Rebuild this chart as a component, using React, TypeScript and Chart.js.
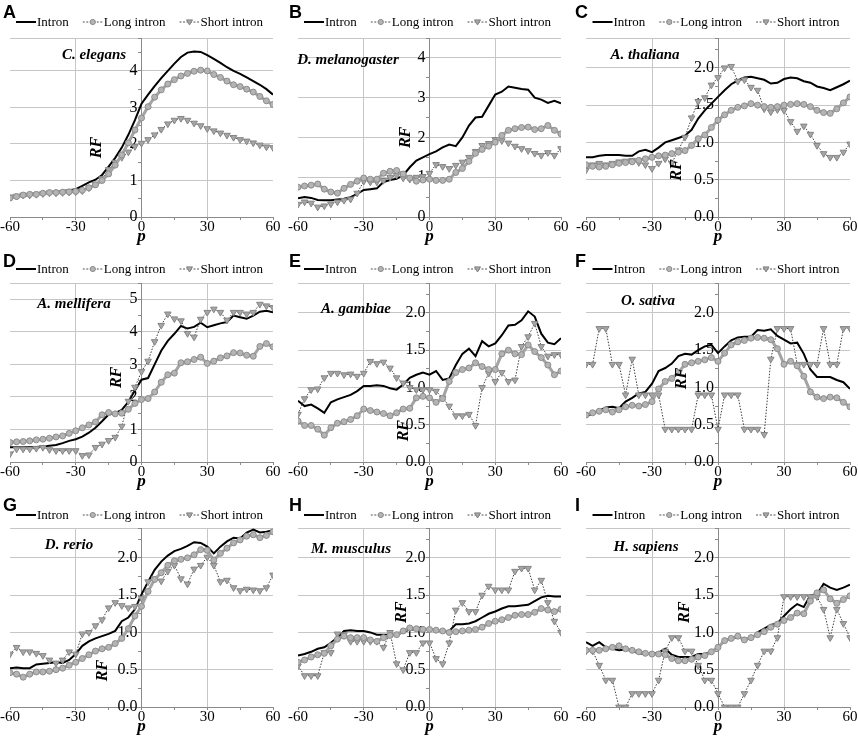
import { useEffect, useRef } from 'react';
import { Chart, registerables } from 'chart.js';

Chart.register(...registerables);

// relative position p around the splice site, sampled every 3 nt
const positions = [
  -60, -57, -54, -51, -48, -45, -42, -39, -36, -33, -30, -27, -24, -21, -18, -15, -12, -9, -6, -3,
  0, 3, 6, 9, 12, 15, 18, 21, 24, 27, 30, 33, 36, 39, 42, 45, 48, 51, 54, 57, 60,
];

const seriesNames = ['Intron', 'Long intron', 'Short intron'];

// C. elegans
const elegansIntron = [0.55, 0.56, 0.58, 0.6, 0.62, 0.64, 0.66, 0.68, 0.71, 0.73, 0.76, 0.85, 0.95, 1.02, 1.15, 1.38, 1.62, 1.9, 2.25, 2.65, 3.1, 3.35, 3.58, 3.8, 4.0, 4.2, 4.38, 4.5, 4.53, 4.52, 4.43, 4.33, 4.22, 4.1, 4.0, 3.92, 3.82, 3.72, 3.62, 3.5, 3.35];
const elegansLong = [0.52, 0.56, 0.6, 0.62, 0.62, 0.65, 0.67, 0.67, 0.68, 0.69, 0.7, 0.73, 0.8, 0.88, 1.0, 1.18, 1.42, 1.7, 2.03, 2.38, 2.71, 3.02, 3.28, 3.48, 3.64, 3.76, 3.86, 3.93, 3.99, 4.02, 4.0, 3.9, 3.82, 3.72, 3.62, 3.57, 3.5, 3.42, 3.3, 3.18, 3.08];
const elegansShort = [0.55, 0.57, 0.6, 0.6, 0.62, 0.64, 0.66, 0.66, 0.67, 0.68, 0.69, 0.72, 0.8, 0.9, 1.05, 1.3, 1.5, 1.63, 1.78, 1.93, 2.02, 2.12, 2.25, 2.4, 2.55, 2.65, 2.7, 2.65, 2.57, 2.5, 2.42, 2.36, 2.3, 2.24, 2.18, 2.12, 2.08, 2.03, 1.97, 1.92, 1.9];

// D. melanogaster
const melanoIntron = [0.47, 0.5, 0.48, 0.43, 0.42, 0.42, 0.44, 0.46, 0.5, 0.58, 0.68, 0.7, 0.72, 0.88, 0.93, 0.96, 1.05, 1.25, 1.42, 1.5, 1.58, 1.65, 1.75, 1.82, 1.78, 2.0, 2.3, 2.5, 2.52, 2.8, 3.08, 3.15, 3.28, 3.25, 3.22, 3.2, 3.0, 2.95, 2.87, 2.92, 2.86];
const melanoLong = [0.75, 0.78, 0.8, 0.83, 0.7, 0.63, 0.6, 0.72, 0.82, 0.9, 0.98, 0.95, 0.95, 1.1, 1.15, 1.17, 1.08, 0.98, 0.9, 0.93, 0.95, 0.92, 0.92, 0.95, 1.12, 1.22, 1.4, 1.6, 1.7, 1.78, 1.88, 2.05, 2.18, 2.22, 2.25, 2.26, 2.2, 2.22, 2.3, 2.18, 2.09];
const melanoShort = [0.32, 0.38, 0.35, 0.25, 0.28, 0.33, 0.38, 0.42, 0.45, 0.6, 0.9, 0.88, 0.88, 0.92, 1.0, 1.05, 0.98, 0.95, 1.0, 1.02, 1.1, 1.32, 1.27, 1.22, 1.3, 1.38, 1.5, 1.65, 1.8, 1.85, 1.95, 1.92, 1.86, 1.78, 1.72, 1.67, 1.6, 1.55, 1.62, 1.55, 1.72];

// A. thaliana
const thalianaIntron = [0.8, 0.8, 0.82, 0.83, 0.83, 0.83, 0.82, 0.82, 0.88, 0.9, 0.87, 0.93, 1.0, 1.03, 1.06, 1.09, 1.17, 1.32, 1.43, 1.52, 1.61, 1.7, 1.78, 1.83, 1.87, 1.88, 1.86, 1.84, 1.79, 1.8, 1.85, 1.87, 1.86, 1.82, 1.8, 1.75, 1.73, 1.7, 1.74, 1.78, 1.83];
const thalianaLong = [0.7, 0.68, 0.67, 0.68, 0.7, 0.72, 0.73, 0.74, 0.76, 0.78, 0.8, 0.82, 0.83, 0.85, 0.87, 0.89, 0.96, 1.05, 1.1, 1.2, 1.3, 1.37, 1.43, 1.47, 1.49, 1.52, 1.5, 1.48, 1.47, 1.48, 1.5, 1.51, 1.52, 1.51, 1.48, 1.43, 1.4, 1.39, 1.45, 1.53, 1.61];
const thalianaShort = [0.63, 0.7, 0.72, 0.7, 0.72, 0.74, 0.75, 0.76, 0.73, 0.7, 0.65, 0.72, 0.78, 0.72, 0.9, 1.07, 1.33, 1.55, 1.6, 1.77, 1.87, 2.0, 2.02, 1.82, 1.84, 1.74, 1.7, 1.45, 1.41, 1.44, 1.43, 1.28, 1.15, 1.22, 1.11, 0.96, 0.85, 0.8, 0.8, 0.87, 0.98];

// A. mellifera
const melliferaIntron = [0.45, 0.45, 0.45, 0.46, 0.46, 0.48, 0.5, 0.52, 0.58, 0.65, 0.7, 0.78, 0.9, 1.05, 1.25, 1.46, 1.5, 1.6, 1.85, 2.2, 2.53, 2.58, 3.0, 3.42, 3.72, 3.94, 4.18, 4.1, 4.15, 4.28, 4.14, 4.2, 4.26, 4.3, 4.5, 4.45, 4.4, 4.5, 4.62, 4.65, 4.6];
const melliferaLong = [0.6, 0.62, 0.63, 0.65, 0.68, 0.7, 0.73, 0.77, 0.8, 0.88, 0.96, 1.05, 1.14, 1.23, 1.45, 1.52, 1.48, 1.5, 1.62, 1.8, 1.92, 1.95, 2.15, 2.45, 2.68, 2.73, 3.05, 3.08, 3.15, 3.22, 3.03, 3.1, 3.2, 3.26, 3.36, 3.35, 3.28, 3.25, 3.55, 3.64, 3.54];
const melliferaShort = [0.25, 0.4, 0.4, 0.4, 0.42, 0.45, 0.38, 0.35, 0.35, 0.35, 0.35, 0.2, 0.22, 0.45, 0.55, 0.66, 0.76, 1.1, 1.87, 2.3, 2.78, 3.1, 3.7, 4.2, 4.55, 4.4, 4.34, 3.95, 3.84, 4.39, 4.6, 4.7, 4.6, 4.36, 4.6, 4.6, 4.55, 4.6, 4.85, 4.8, 4.75];

// A. gambiae
const gambiaeIntron = [0.82, 0.75, 0.77, 0.72, 0.66, 0.8, 0.84, 0.87, 0.9, 0.95, 1.02, 1.02, 1.03, 1.02, 0.99, 0.97, 1.04, 1.13, 1.17, 1.2, 1.17, 1.22, 1.1, 1.12, 1.3, 1.45, 1.52, 1.42, 1.62, 1.55, 1.59, 1.7, 1.83, 1.84, 1.9, 2.02, 1.95, 1.72, 1.6, 1.58, 1.66];
const gambiaeLong = [0.55, 0.49, 0.49, 0.44, 0.36, 0.46, 0.52, 0.54, 0.57, 0.62, 0.71, 0.69, 0.67, 0.65, 0.62, 0.66, 0.71, 0.72, 0.86, 0.88, 0.86, 0.8, 0.85, 1.08, 1.2, 1.24, 1.26, 1.33, 1.28, 1.24, 1.24, 1.45, 1.5, 1.45, 1.44, 1.57, 1.48, 1.4, 1.3, 1.17, 1.22];
const gambiaeShort = [0.64, 0.85, 0.97, 0.98, 1.13, 1.19, 1.19, 1.17, 1.18, 1.15, 1.19, 1.35, 1.32, 1.34, 1.26, 1.13, 1.06, 1.0, 0.97, 0.97, 0.97, 0.95, 0.86, 0.75, 0.62, 0.62, 0.64, 0.49, 1.0, 1.19, 1.08, 1.2, 1.08, 1.1, 1.55, 1.68, 1.86, 1.55, 1.42, 1.44, 1.44];

// O. sativa
const sativaIntron = [0.61, 0.65, 0.69, 0.73, 0.74, 0.72, 0.81, 0.86, 0.92, 0.94, 1.05, 1.22, 1.26, 1.32, 1.42, 1.45, 1.44, 1.5, 1.55, 1.57, 1.46, 1.55, 1.63, 1.67, 1.68, 1.68, 1.77, 1.76, 1.78, 1.69, 1.64, 1.59, 1.6, 1.45, 1.24, 1.14, 1.14, 1.14, 1.1, 1.07, 0.98];
const sativaLong = [0.63, 0.66, 0.68, 0.7, 0.67, 0.7, 0.74, 0.76, 0.75, 0.77, 0.81, 0.98, 1.08, 1.12, 1.2, 1.31, 1.33, 1.35, 1.37, 1.4, 1.35, 1.46, 1.57, 1.61, 1.63, 1.66, 1.67, 1.66, 1.64, 1.52, 1.31, 1.35, 1.29, 1.15, 0.94, 0.87, 0.85, 0.87, 0.86, 0.8, 0.74];
const sativaShort = [1.31, 1.31, 1.79, 1.79, 1.31, 1.31, 0.9, 1.38, 0.9, 0.9, 0.9, 0.9, 0.44, 0.44, 0.44, 0.44, 0.44, 0.9, 0.9, 0.9, 0.44, 0.9, 0.9, 0.9, 0.44, 0.44, 0.44, 0.37, 1.38, 1.79, 1.79, 1.79, 1.31, 1.31, 1.31, 1.31, 1.79, 1.31, 1.31, 1.79, 1.79];

// D. rerio
const rerioIntron = [0.52, 0.53, 0.52, 0.52, 0.57, 0.58, 0.59, 0.6, 0.59, 0.63, 0.71, 0.82, 0.88, 0.92, 0.95, 0.98, 1.02, 1.15, 1.2, 1.31, 1.51, 1.68, 1.84, 1.95, 2.03, 2.09, 2.12, 2.16, 2.21, 2.2, 2.15, 2.06, 2.15, 2.22, 2.27, 2.26, 2.34, 2.38, 2.34, 2.35, 2.37];
const rerioLong = [0.46, 0.44, 0.4, 0.44, 0.47, 0.47, 0.48, 0.5, 0.52, 0.56, 0.6, 0.65, 0.7, 0.75, 0.78, 0.8, 0.85, 0.92, 1.05, 1.22, 1.35, 1.55, 1.71, 1.8, 1.9, 1.96, 1.98, 2.0, 2.04, 2.11, 2.1, 1.97, 2.06, 2.13, 2.2, 2.24, 2.29, 2.31, 2.27, 2.3, 2.35];
const rerioShort = [0.71, 0.8, 0.74, 0.74, 0.72, 0.69, 0.63, 0.59, 0.63, 0.74, 0.71, 0.98, 1.0, 1.09, 1.17, 1.33, 1.4, 1.36, 1.33, 1.35, 1.46, 1.68, 1.72, 1.69, 1.82, 1.9, 1.72, 1.65, 1.85, 1.9, 2.01, 1.9, 1.68, 1.7, 1.6, 1.56, 1.58, 1.57, 1.56, 1.6, 1.77];

// M. musculus
const musculusIntron = [0.69, 0.71, 0.74, 0.78, 0.8, 0.86, 0.93, 1.02, 1.03, 1.02, 1.02, 1.0, 0.97, 0.97, 0.97, 0.97, 1.0, 1.04, 1.04, 1.04, 1.04, 1.03, 1.01, 1.02, 1.11, 1.11, 1.12, 1.15, 1.2, 1.25, 1.28, 1.32, 1.35, 1.35, 1.36, 1.37, 1.42, 1.47, 1.49, 1.48, 1.48];
const musculusLong = [0.6, 0.63, 0.67, 0.7, 0.72, 0.82, 0.91, 0.95, 0.93, 0.93, 0.93, 0.9, 0.88, 0.93, 0.96, 0.97, 1.02, 1.06, 1.05, 1.04, 1.04, 1.03, 1.02, 1.0, 1.01, 1.02, 1.03, 1.04, 1.07, 1.12, 1.15, 1.17, 1.2, 1.23, 1.24, 1.24, 1.27, 1.32, 1.3, 1.28, 1.31];
const musculusShort = [0.55, 0.42, 0.42, 0.42, 0.73, 0.73, 0.98, 0.97, 0.88, 0.88, 0.88, 0.88, 0.88, 0.8, 1.0, 0.58, 0.5, 0.73, 0.73, 0.86, 0.86, 0.65, 0.58, 0.86, 1.3, 1.4, 1.28, 1.28, 1.5, 1.62, 1.57, 1.57, 1.57, 1.82, 1.86, 1.86, 1.57, 1.7, 1.4, 1.15, 1.0];

// H. sapiens
const sapiensIntron = [0.87, 0.82, 0.87, 0.8, 0.78, 0.76, 0.77, 0.75, 0.72, 0.71, 0.71, 0.73, 0.78, 0.7, 0.67, 0.67, 0.67, 0.71, 0.71, 0.74, 0.8, 0.89, 0.92, 0.93, 0.92, 0.91, 1.0, 1.05, 1.1, 1.12, 1.22, 1.31, 1.38, 1.34, 1.5, 1.51, 1.65, 1.6, 1.57, 1.6, 1.64];
const sapiensLong = [0.76, 0.76, 0.76, 0.78, 0.8, 0.82, 0.78, 0.76, 0.74, 0.72, 0.71, 0.71, 0.7, 0.65, 0.62, 0.62, 0.64, 0.67, 0.69, 0.74, 0.8, 0.89, 0.92, 0.95, 0.9, 0.93, 0.97, 1.01, 1.07, 1.11, 1.16, 1.2, 1.26, 1.25, 1.42, 1.53, 1.57, 1.45, 1.39, 1.44, 1.49];
const sapiensShort = [0.75, 0.75, 0.56, 0.36, 0.36, 0, 0, 0.18, 0.18, 0.18, 0.18, 0.36, 0.75, 0.93, 0.93, 0.75, 0.75, 0.56, 0.36, 0.36, 0.18, 0, 0, 0, 0.18, 0.36, 0.56, 0.75, 0.75, 0.93, 1.48, 1.48, 1.48, 1.48, 1.48, 1.48, 1.31, 0.93, 1.31, 1.12, 0.93];

// axis ticks
const xTicks = [-60, -45, -30, -15, 0, 15, 30, 45, 60];
const xLabelled = [-60, -30, 0, 30, 60];
const xGridAt = [-30, 30];

const yTicks49 = [0, 0.5, 1, 1.5, 2, 2.5, 3, 3.5, 4, 4.5, 4.9];
const yTicks45 = [0, 0.5, 1, 1.5, 2, 2.5, 3, 3.5, 4, 4.5];
const yTicks55 = [0, 0.5, 1, 1.5, 2, 2.5, 3, 3.5, 4, 4.5, 5, 5.5];
const yTicks24 = [0, 0.25, 0.5, 0.75, 1, 1.25, 1.5, 1.75, 2, 2.25, 2.4];
const yLabels4 = [0, 1, 2, 3, 4];
const yLabels5 = [0, 1, 2, 3, 4, 5];
const yLabelsHalf = [0, 0.5, 1, 1.5, 2];

const SERIF = "'Liberation Serif', 'Times New Roman', serif";
const GRID = '#c6c6c6';
const AXIS = '#8a8a8a';

const CANVAS_W = 286;
const CANVAS_H = 246;
const ROW_STEP = 245;
const padLeft = [10, 12, 14];
const padRight = [13, 11, 8];
const letterBase = [18, 22, 21];
const legendY = [22, 24, 25];

interface PanelDef {
  letter: string;
  species: string;
  intron: number[];
  long: number[];
  short: number[];
  yMax: number;
  yTicks: number[];
  yLabels: number[];
  digits: number;
  rfAt: number;
  rfDx: number;
  speciesX: number;
  speciesY: number;
}

const panels: PanelDef[] = [
  { letter: 'A', species: 'C. elegans', intron: elegansIntron, long: elegansLong, short: elegansShort, yMax: 4.9, yTicks: yTicks49, yLabels: yLabels4, digits: 0, rfAt: 1.9, rfDx: 45, speciesX: 94, speciesY: 55 },
  { letter: 'B', species: 'D. melanogaster', intron: melanoIntron, long: melanoLong, short: melanoShort, yMax: 4.5, yTicks: yTicks45, yLabels: yLabels4, digits: 0, rfAt: 2.0, rfDx: 24, speciesX: 62, speciesY: 60 },
  { letter: 'C', species: 'A. thaliana', intron: thalianaIntron, long: thalianaLong, short: thalianaShort, yMax: 2.4, yTicks: yTicks24, yLabels: yLabelsHalf, digits: 1, rfAt: 0.63, rfDx: 41, speciesX: 73, speciesY: 55 },
  { letter: 'D', species: 'A. mellifera', intron: melliferaIntron, long: melliferaLong, short: melliferaShort, yMax: 5.5, yTicks: yTicks55, yLabels: yLabels5, digits: 0, rfAt: 2.6, rfDx: 25, speciesX: 74, speciesY: 59 },
  { letter: 'E', species: 'A. gambiae', intron: gambiaeIntron, long: gambiaeLong, short: gambiaeShort, yMax: 2.4, yTicks: yTicks24, yLabels: yLabelsHalf, digits: 1, rfAt: 0.42, rfDx: 26, speciesX: 70, speciesY: 64 },
  { letter: 'F', species: 'O. sativa', intron: sativaIntron, long: sativaLong, short: sativaShort, yMax: 2.4, yTicks: yTicks24, yLabels: yLabelsHalf, digits: 1, rfAt: 1.12, rfDx: 36, speciesX: 76, speciesY: 56 },
  { letter: 'G', species: 'D. rerio', intron: rerioIntron, long: rerioLong, short: rerioShort, yMax: 2.4, yTicks: yTicks24, yLabels: yLabelsHalf, digits: 1, rfAt: 0.49, rfDx: 39, speciesX: 69, speciesY: 55 },
  { letter: 'H', species: 'M. musculus', intron: musculusIntron, long: musculusLong, short: musculusShort, yMax: 2.4, yTicks: yTicks24, yLabels: yLabelsHalf, digits: 1, rfAt: 1.27, rfDx: 28, speciesX: 65, speciesY: 59 },
  { letter: 'I', species: 'H. sapiens', intron: sapiensIntron, long: sapiensLong, short: sapiensShort, yMax: 2.4, yTicks: yTicks24, yLabels: yLabelsHalf, digits: 1, rfAt: 1.27, rfDx: 33, speciesX: 74, speciesY: 57 },
];

function drawTriangleDown(ctx: CanvasRenderingContext2D, x: number, y: number, r: number) {
  ctx.beginPath();
  ctx.moveTo(x - r, y - r * 0.7);
  ctx.lineTo(x + r, y - r * 0.7);
  ctx.lineTo(x, y + r);
  ctx.closePath();
  ctx.fill();
  ctx.stroke();
}

function drawLegend(ctx: CanvasRenderingContext2D, cx: number, y: number) {
  ctx.save();
  ctx.font = `13px ${SERIF}`;
  ctx.textBaseline = 'middle';
  ctx.textAlign = 'left';
  const sample = 20;
  const gap = 14;
  const widths = seriesNames.map((n) => sample + 1 + ctx.measureText(n).width);
  const total = widths.reduce((a, b) => a + b, 0) + gap * (widths.length - 1);
  let x = cx - total / 2;
  seriesNames.forEach((name, i) => {
    ctx.beginPath();
    if (i === 0) {
      ctx.strokeStyle = '#000';
      ctx.lineWidth = 2;
      ctx.setLineDash([]);
    } else {
      ctx.strokeStyle = '#555';
      ctx.lineWidth = 1;
      ctx.setLineDash([2, 1.5]);
    }
    ctx.moveTo(x, y);
    ctx.lineTo(x + sample, y);
    ctx.stroke();
    ctx.setLineDash([]);
    ctx.lineWidth = 1;
    if (i === 1) {
      ctx.fillStyle = '#b4b4b4';
      ctx.strokeStyle = '#8a8a8a';
      ctx.beginPath();
      ctx.arc(x + sample / 2, y, 2.6, 0, Math.PI * 2);
      ctx.fill();
      ctx.stroke();
    } else if (i === 2) {
      ctx.fillStyle = '#a8a8a8';
      ctx.strokeStyle = '#808080';
      drawTriangleDown(ctx, x + sample / 2, y, 3);
    }
    ctx.fillStyle = '#000';
    ctx.fillText(name, x + sample + 1, y + 0.5);
    x += widths[i] + gap;
  });
  ctx.restore();
}

function Panel({ panel, col, row }: { panel: PanelDef; col: number; row: number }) {
  const canvasRef = useRef<HTMLCanvasElement | null>(null);

  useEffect(() => {
    if (!canvasRef.current) return;
    const toPoints = (values: number[]) => positions.map((p, i) => ({ x: p, y: values[i] }));

    const decor = {
      id: 'panelDecor',
      afterDraw(chart: Chart) {
        const { ctx, chartArea } = chart;
        const xs = chart.scales.x;
        const ys = chart.scales.y;
        ctx.save();
        // panel letter
        ctx.fillStyle = '#000';
        ctx.font = "bold 18px 'Liberation Sans', Arial, sans-serif";
        ctx.textAlign = 'left';
        ctx.textBaseline = 'alphabetic';
        ctx.fillText(panel.letter, 3, letterBase[row]);
        // legend
        drawLegend(ctx, (chartArea.left + chartArea.right) / 2 - 2, legendY[row]);
        // species name
        ctx.font = `italic bold 15px ${SERIF}`;
        ctx.textAlign = 'center';
        ctx.textBaseline = 'middle';
        ctx.fillStyle = '#000';
        ctx.fillText(panel.species, panel.speciesX, panel.speciesY);
        // RF axis title
        ctx.translate(xs.getPixelForValue(0) - panel.rfDx, ys.getPixelForValue(panel.rfAt));
        ctx.rotate(-Math.PI / 2);
        ctx.font = `italic bold 16px ${SERIF}`;
        ctx.fillText('RF', 0, 0);
        ctx.restore();
      },
    };

    const chart = new Chart(canvasRef.current, {
      type: 'line',
      data: {
        datasets: [
          {
            label: seriesNames[1],
            data: toPoints(panel.long),
            order: 1,
            borderColor: '#a4a4a4',
            borderWidth: 3,
            pointStyle: 'circle',
            pointRadius: 3,
            pointBorderWidth: 1,
            pointBackgroundColor: '#b4b4b4',
            pointBorderColor: '#8c8c8c',
          },
          {
            label: seriesNames[2],
            data: toPoints(panel.short),
            order: 2,
            borderColor: '#3c3c3c',
            borderWidth: 1,
            borderDash: [1.5, 1.5],
            pointStyle: 'triangle',
            rotation: 180,
            pointRadius: 3.8,
            pointBorderWidth: 1,
            pointBackgroundColor: '#a6a6a6',
            pointBorderColor: '#858585',
          },
          {
            label: seriesNames[0],
            data: toPoints(panel.intron),
            order: 3,
            borderColor: '#000',
            borderWidth: 2,
            pointRadius: 0,
          },
        ],
      },
      options: {
        animation: false,
        responsive: false,
        layout: { padding: { left: padLeft[col], right: padRight[col], top: 38, bottom: 1 } },
        plugins: { legend: { display: false }, tooltip: { enabled: false } },
        scales: {
          x: {
            type: 'linear',
            min: -60,
            max: 60,
            afterBuildTicks: (scale) => {
              scale.ticks = xTicks.map((v) => ({ value: v }));
            },
            ticks: {
              autoSkip: false,
              maxRotation: 0,
              padding: 0,
              color: '#000',
              font: { family: SERIF, size: 15, lineHeight: 1 },
              callback: (v) => (xLabelled.includes(Number(v)) ? String(v) : ''),
            },
            grid: {
              color: (c) => (c.tick && xGridAt.includes(c.tick.value) ? GRID : 'rgba(0,0,0,0)'),
              tickColor: AXIS,
              tickLength: 3,
            },
            border: { color: AXIS },
            title: {
              display: true,
              text: 'p',
              color: '#000',
              font: { family: SERIF, size: 17, weight: 'bold', style: 'italic', lineHeight: 1 },
              padding: { top: -7, bottom: 0 },
            },
          },
          y: {
            type: 'linear',
            min: 0,
            max: panel.yMax,
            position: { x: 0 },
            afterBuildTicks: (scale) => {
              scale.ticks = panel.yTicks.map((v) => ({ value: v }));
            },
            ticks: {
              autoSkip: false,
              padding: 3,
              color: '#000',
              font: { family: SERIF, size: 16 },
              // trailing space keeps the label clear of the centred axis line
              callback: (v) => (panel.yLabels.includes(Number(v)) ? Number(v).toFixed(panel.digits) + ' ' : ''),
            },
            grid: {
              color: (c) =>
                c.tick && (panel.yLabels.includes(c.tick.value) || c.tick.value === panel.yMax) ? GRID : 'rgba(0,0,0,0)',
              tickColor: AXIS,
              tickLength: 3,
            },
            border: { color: AXIS },
          },
        },
      },
      plugins: [decor],
    });

    return () => {
      chart.destroy();
    };
  }, [panel, col, row]);

  return (
    <canvas
      ref={canvasRef}
      width={CANVAS_W}
      height={CANVAS_H}
      style={{ position: 'absolute', left: col * CANVAS_W, top: row * ROW_STEP, width: CANVAS_W, height: CANVAS_H }}
    />
  );
}

export default function App() {
  return (
    <div style={{ position: 'absolute', left: 0, top: 0, width: 858, height: 742, background: '#fff' }}>
      {panels.map((p, i) => (
        <Panel key={p.letter} panel={p} col={i % 3} row={Math.floor(i / 3)} />
      ))}
    </div>
  );
}
